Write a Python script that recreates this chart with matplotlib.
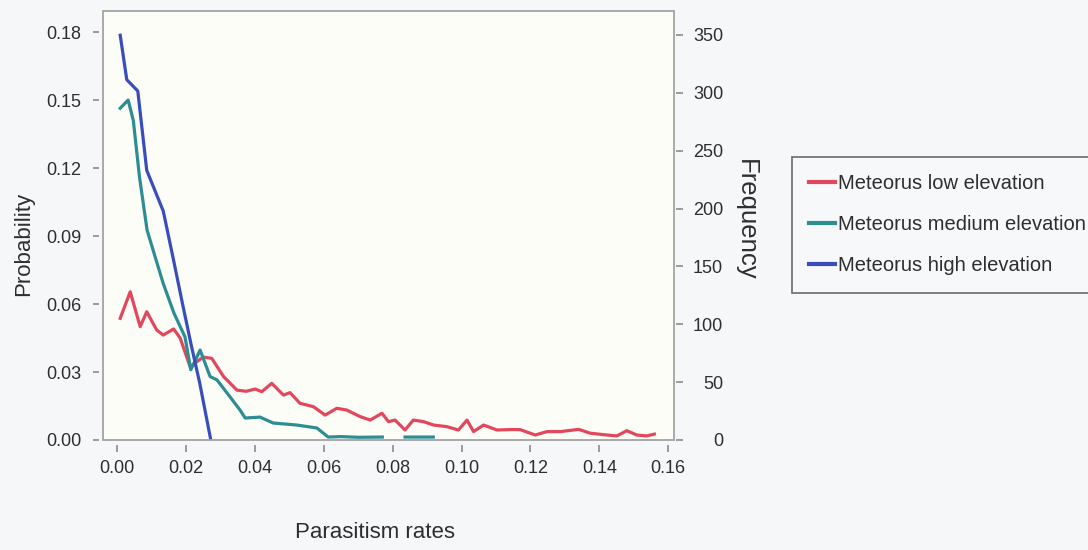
import numpy as np
import matplotlib
matplotlib.use("Agg")
import matplotlib.pyplot as plt
from matplotlib.patches import Rectangle
from matplotlib import font_manager

plt.rcParams["font.family"] = ["Liberation Sans", "DejaVu Sans"]

# parasitism rate vs probability, one curve per elevation
low_x = [0.0009, 0.0038, 0.0067, 0.0086, 0.0115, 0.0134, 0.0164, 0.0183, 0.0212,
         0.0231, 0.0250, 0.0275, 0.0309, 0.0348, 0.0375, 0.0401, 0.0420, 0.0449,
         0.0483, 0.0502, 0.0531, 0.0570, 0.0604, 0.0638, 0.0667, 0.0706, 0.0735,
         0.0769, 0.0788, 0.0807, 0.0836, 0.0860, 0.0890, 0.0919, 0.0957, 0.0991,
         0.1016, 0.1035, 0.1064, 0.1103, 0.1141, 0.1170, 0.1214, 0.1248, 0.1287,
         0.1340, 0.1374, 0.1422, 0.1451, 0.1480, 0.1509, 0.1538, 0.1560]
low_y = [0.0537, 0.0654, 0.0500, 0.0566, 0.0485, 0.0463, 0.0490, 0.0450, 0.0323,
         0.0345, 0.0366, 0.0360, 0.0280, 0.0220, 0.0215, 0.0225, 0.0213, 0.0250,
         0.0198, 0.0209, 0.0162, 0.0147, 0.0110, 0.0140, 0.0132, 0.0103, 0.0088,
         0.0118, 0.0081, 0.0088, 0.0044, 0.0088, 0.0081, 0.0066, 0.0059, 0.0044,
         0.0088, 0.0037, 0.0066, 0.0044, 0.0046, 0.0046, 0.0022, 0.0037, 0.0037,
         0.0047, 0.0030, 0.0022, 0.0018, 0.0041, 0.0022, 0.0018, 0.0026]

med_x = [0.0009, 0.0032, 0.0047, 0.0065, 0.0087, 0.0110, 0.0134, 0.0165, 0.0197,
         0.0214, 0.0241, 0.0270, 0.0290, 0.0328, 0.0357, 0.0372, 0.0415, 0.0453,
         0.0522, 0.0580, 0.0613, 0.0650, 0.0700, 0.0770, 0.0771, 0.0835, 0.0836,
         0.0918]
med_y = [0.1464, 0.1500, 0.1410, 0.1160, 0.0926, 0.0810, 0.0690, 0.0560, 0.0455,
         0.0310, 0.0397, 0.0280, 0.0265, 0.0190, 0.0132, 0.0097, 0.0101, 0.0075,
         0.0066, 0.0053, 0.0013, 0.0015, 0.0012, 0.0013, np.nan, np.nan, 0.0013,
         0.0013]

high_x = [0.0009, 0.0028, 0.0060, 0.0086, 0.0110, 0.0134, 0.0163, 0.0190, 0.0215,
          0.0240, 0.0272]
high_y = [0.1786, 0.1590, 0.1540, 0.1190, 0.1100, 0.1010, 0.0800, 0.0600, 0.0420,
          0.0250, 0.0000]

series = [
    ("Meteorus low elevation", low_x, low_y, "#e2475d"),
    ("Meteorus medium elevation", med_x, med_y, "#2c8d93"),
    ("Meteorus high elevation", high_x, high_y, "#3a4dbd"),
]

prob_ticks = [0.00, 0.03, 0.06, 0.09, 0.12, 0.15, 0.18]
freq_ticks = [0, 50, 100, 150, 200, 250, 300, 350]
rate_ticks = [0.00, 0.02, 0.04, 0.06, 0.08, 0.10, 0.12, 0.14, 0.16]

W, H = 1088, 550
fig = plt.figure(figsize=(W / 100, H / 100), dpi=100, facecolor="#f6f7f9")
ax = fig.add_axes([103 / W, 1 - 440 / H, (674 - 103) / W, (440 - 11) / H])
ax.set_facecolor("#fdfdf7")

handles = []
for name, xs, ys, c in series:
    l, = ax.plot(xs, ys, color=c, lw=2.3, label=name)
    handles.append(l)

ax.set_xlim(-0.0041, 0.1617)
ax.set_ylim(0, 0.1893)
ax.set_xticks(rate_ticks)
ax.set_xticklabels(["%.2f" % t for t in rate_ticks])
ax.set_yticks(prob_ticks)
ax.set_yticklabels(["%.2f" % t for t in prob_ticks])

tick_col = "#8c8c8c"
txt_col = "#2e2e2e"
for s in ax.spines.values():
    s.set_visible(False)
ax.spines["left"].set_position(("outward", 3))
ax.spines["bottom"].set_position(("outward", 3.6))
ax.tick_params(axis="y", length=4.5, width=1.2, color=tick_col, pad=8,
               labelsize=13, labelcolor=txt_col)
ax.tick_params(axis="x", length=5, width=1.2, color=tick_col, pad=6,
               labelsize=13, labelcolor=txt_col)

ax2 = ax.twinx()
ax2.set_ylim(0, 370.7)
ax2.set_yticks(freq_ticks)
ax2.set_yticklabels([str(t) for t in freq_ticks])
for s in ax2.spines.values():
    s.set_visible(False)
ax2.spines["right"].set_position(("outward", 1.4))
ax2.tick_params(axis="y", length=5, width=1.2, color=tick_col, pad=29,
                labelsize=13, labelcolor=txt_col)
plt.setp(ax2.get_yticklabels(), ha="right")

ax2.add_patch(Rectangle((0, 0), 1, 1, transform=ax2.transAxes, fill=False,
                        edgecolor="#a3a3a3", lw=1.3, clip_on=False, zorder=5))

fig.text(375 / W, 1 - 533 / H, "Parasitism rates", ha="center", va="center",
         fontsize=16, color=txt_col)
fig.text(24 / W, 1 - 244 / H, "Probability", ha="center", va="center",
         rotation=90, fontsize=16, color=txt_col)
fig.text(746 / W, 1 - 220 / H, "Frequency", ha="center", va="center",
         rotation=270, fontsize=18.5, color=txt_col)

narrow = [f.name for f in font_manager.fontManager.ttflist
          if f.name == "Liberation Sans Narrow"]
leg_font = font_manager.FontProperties(
    family=["Liberation Sans Narrow"] if narrow else ["Liberation Sans"],
    size=16 if narrow else 14.5)

leg = fig.legend(handles=handles, loc="upper left",
                 bbox_to_anchor=(792 / W, 1 - 157 / H), borderaxespad=0,
                 prop=leg_font, frameon=True, fancybox=False,
                 handlelength=1.3, handletextpad=0.15, labelspacing=1.1,
                 borderpad=0.85)
leg.get_frame().set_edgecolor("#555555")
leg.get_frame().set_linewidth(1.3)
leg.get_frame().set_facecolor("#f8f9fb")
for t in leg.get_texts():
    t.set_color(txt_col)
for h in leg.legend_handles:
    h.set_linewidth(3)

fig.savefig("out.png", dpi=100, facecolor=fig.get_facecolor())
